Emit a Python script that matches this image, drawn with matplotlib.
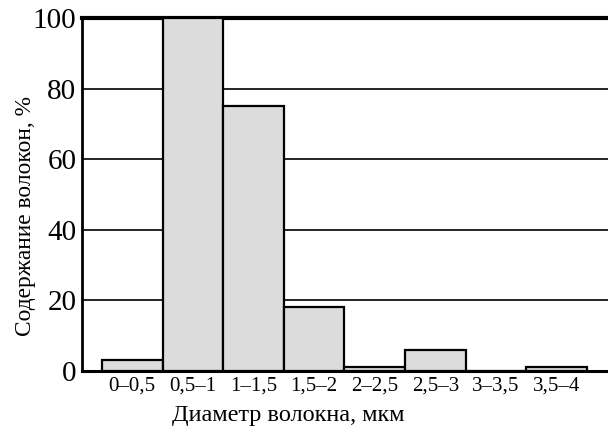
import matplotlib
matplotlib.use("Agg")
import matplotlib.pyplot as plt
import numpy as np

plt.rcParams['font.family'] = ['Liberation Serif', 'DejaVu Serif']

# fibre diameter bins and content
bins = ["0–0,5", "0,5–1", "1–1,5", "1,5–2", "2–2,5", "2,5–3", "3–3,5", "3,5–4"]
content = [3, 100, 75, 18, 1, 6, 0, 1]

fig = plt.figure(figsize=(6.08, 4.33), dpi=100)
ax = fig.add_axes([82 / 608, 1 - 371 / 433, 1 - 82 / 608, (371 - 18) / 433])

x = np.arange(len(bins))
ax.bar(x, content, width=1.0, color="#dcdcdc", edgecolor="black", linewidth=1.6, zorder=3)

ax.set_xlim(-0.83, 7.85)
ax.set_ylim(0, 99.5)
ax.set_yticks([0, 20, 40, 60, 80, 100])
ax.set_xticks(x)
ax.set_xticklabels(bins, fontsize=15)
ax.tick_params(axis="y", labelsize=21, length=0, pad=4)
ax.tick_params(axis="x", length=0, pad=4)

for yv in [20, 40, 60, 80]:
    ax.axhline(yv, color="black", linewidth=1.2, zorder=1)

ax.spines["right"].set_visible(False)
ax.spines["top"].set_linewidth(3)
ax.spines["left"].set_linewidth(2)
ax.spines["bottom"].set_linewidth(2.2)

ax.set_xlabel("Диаметр волокна, мкм", fontsize=17.5)
ax.xaxis.set_label_coords(0.392, -0.095)
ax.set_ylabel("Содержание волокон, %", fontsize=16.8)
ax.yaxis.set_label_coords(-0.088, 0.44)

fig.savefig("out.png", dpi=100)
